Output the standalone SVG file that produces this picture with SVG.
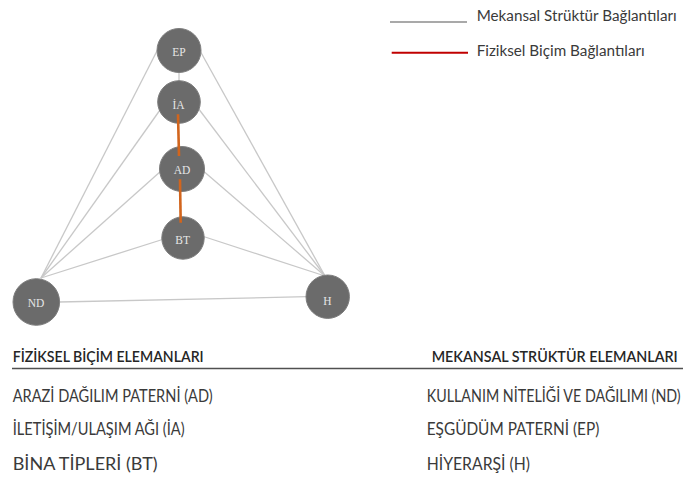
<svg xmlns="http://www.w3.org/2000/svg" width="683" height="484" viewBox="0 0 683 484">
<style>
.node{fill:#6b6b6b;stroke:#7d7d7d;stroke-width:1}
.nl{font-family:"Liberation Serif","Times New Roman",serif;font-size:11.5px;fill:#e6e6e6;text-anchor:middle}
.g{stroke:#c8c8c8;stroke-width:1.3;fill:none}
.o{stroke:#d2651d;stroke-width:2.6;fill:none}
.t{font-family:Lato,"Liberation Sans",Arial,sans-serif;fill:#3a3a3a;font-size:17px}
.h{font-family:Lato,"Liberation Sans",Arial,sans-serif;fill:#262626;font-size:16px;font-weight:600}
.lg{font-family:Lato,"Liberation Sans",Arial,sans-serif;fill:#3a3a3a;font-size:15.5px}
</style>
<rect width="683" height="484" fill="#ffffff"/>
<g id="connectors">
<line class="g" x1="41" y1="278" x2="159" y2="47"/>
<line class="g" x1="41" y1="278" x2="160" y2="110"/>
<line class="g" x1="41" y1="278" x2="161" y2="171"/>
<line class="g" x1="41" y1="278" x2="164" y2="239"/>
<line class="g" x1="59" y1="302" x2="307" y2="296.7"/>
<line class="g" x1="325" y1="276" x2="199" y2="49"/>
<line class="g" x1="325" y1="276" x2="198" y2="108"/>
<line class="g" x1="325" y1="276" x2="201" y2="169"/>
<line class="g" x1="325" y1="276" x2="202" y2="236"/>
<line class="g" x1="179" y1="70" x2="179" y2="84"/>
</g>
<g id="EP"><circle class="node" cx="179" cy="50.5" r="22"/><text class="nl" x="179" y="55.5">EP</text></g>
<g id="IA"><circle class="node" cx="179" cy="102" r="21.3"/><text class="nl" x="178.5" y="109">İA</text></g>
<g id="AD"><circle class="node" cx="182" cy="169" r="22.5"/><text class="nl" x="182" y="174.3">AD</text></g>
<g id="BT"><circle class="node" cx="183" cy="238" r="21.2"/><text class="nl" x="182.7" y="244.3">BT</text></g>
<g id="ND"><circle class="node" cx="36.3" cy="302" r="23.3"/><text class="nl" x="36" y="307">ND</text></g>
<g id="H"><circle class="node" cx="327.7" cy="296.7" r="21.7"/><text class="nl" x="327.5" y="304.5">H</text></g>
<g id="physical-connectors">
<line class="o" x1="178" y1="114.3" x2="179" y2="156"/>
<line class="o" x1="180" y1="179.3" x2="180.7" y2="222.7"/>
</g>
<g id="legend">
<line x1="390" y1="22" x2="467" y2="22" stroke="#8c8c8c" stroke-width="1.5"/>
<text class="lg" x="476.7" y="20.7" textLength="200" lengthAdjust="spacingAndGlyphs">Mekansal Strüktür Bağlantıları</text>
<line x1="391.7" y1="52.7" x2="468" y2="52.7" stroke="#c00000" stroke-width="2"/>
<text class="lg" x="476.7" y="55.7" textLength="168" lengthAdjust="spacingAndGlyphs">Fiziksel Biçim Bağlantıları</text>
</g>
<g id="table">
<text class="h" x="12.7" y="361.7" textLength="191" lengthAdjust="spacingAndGlyphs">FİZİKSEL BİÇİM ELEMANLARI</text>
<text class="h" x="431.7" y="361.7" textLength="246" lengthAdjust="spacingAndGlyphs">MEKANSAL STRÜKTÜR ELEMANLARI</text>
<line x1="12" y1="368.5" x2="683" y2="368.5" stroke="#505050" stroke-width="1.5"/>
<text class="t" x="12.7" y="401.7" textLength="200" lengthAdjust="spacingAndGlyphs">ARAZİ DAĞILIM PATERNİ (AD)</text>
<text class="t" x="12.7" y="435" textLength="172" lengthAdjust="spacingAndGlyphs">İLETİŞİM/ULAŞIM AĞI (İA)</text>
<text class="t" x="12.7" y="470" textLength="145" lengthAdjust="spacingAndGlyphs">BİNA TİPLERİ (BT)</text>
<text class="t" x="426.7" y="401.7" textLength="254" lengthAdjust="spacingAndGlyphs">KULLANIM NİTELİĞİ VE DAĞILIMI (ND)</text>
<text class="t" x="426.7" y="435" textLength="172.6" lengthAdjust="spacingAndGlyphs">EŞGÜDÜM PATERNİ (EP)</text>
<text class="t" x="426.7" y="470" textLength="103.3" lengthAdjust="spacingAndGlyphs">HİYERARŞİ (H)</text>
</g>
</svg>
